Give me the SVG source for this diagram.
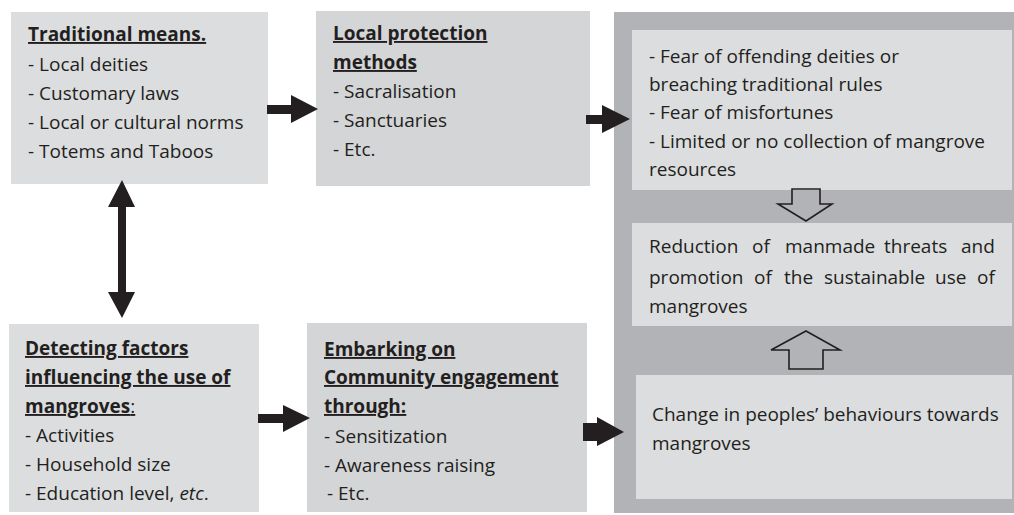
<svg xmlns="http://www.w3.org/2000/svg" width="1014" height="515" viewBox="0 0 1014 515">
<style>
text{font-family:"Open Sans","Noto Sans","DejaVu Sans",sans-serif;font-size:19px;fill:#231f20}
.h{font-weight:bold;text-decoration:underline}
.b1{fill:#dcdddf}
.b2{fill:#d4d5d7}
.panel{fill:#b2b3b6}
.arr{fill:#231f20}
.hollow{fill:none;stroke:#231f20;stroke-width:1.6}
</style>
<rect width="1014" height="515" fill="#ffffff"/>
<g id="panel">
<rect class="panel" x="614" y="12" width="400" height="501"/>
</g>
<g id="traditional">
<rect class="b1" x="11" y="12" width="257" height="172"/>
<text x="28" y="41" class="h">Traditional means.</text>
<text x="28" y="71">- Local deities</text>
<text x="28" y="100">- Customary laws</text>
<text x="28" y="129">- Local or cultural norms</text>
<text x="28" y="158">- Totems and Taboos</text>
</g>
<g id="local">
<rect class="b2" x="316" y="11" width="274" height="175"/>
<text x="333" y="40" class="h">Local protection</text>
<text x="333" y="69" class="h">methods</text>
<text x="333" y="98">- Sacralisation</text>
<text x="333" y="127">- Sanctuaries</text>
<text x="333" y="156">- Etc.</text>
</g>
<g id="fear">
<rect class="b1" x="632" y="30" width="380" height="160"/>
<text x="649" y="63">- Fear of offending deities or</text>
<text x="649" y="91">breaching traditional rules</text>
<text x="649" y="119">- Fear of misfortunes</text>
<text x="649" y="148">- Limited or no collection of mangrove</text>
<text x="649" y="176">resources</text>
</g>
<g id="reduction">
<rect class="b1" x="632" y="223" width="380" height="103"/>
<text y="253"><tspan x="649">Reduction</tspan><tspan x="752">of</tspan><tspan x="785">manmade</tspan><tspan x="884">threats</tspan><tspan x="961">and</tspan></text>
<text y="284"><tspan x="649">promotion</tspan><tspan x="754">of</tspan><tspan x="784">the</tspan><tspan x="824">sustainable</tspan><tspan x="935">use</tspan><tspan x="977">of</tspan></text>
<text x="649" y="313">mangroves</text>
</g>
<g id="change">
<rect class="b1" x="636" y="375" width="376" height="124"/>
<text x="652" y="421">Change in peoples’ behaviours towards</text>
<text x="652" y="450">mangroves</text>
</g>
<g id="detecting">
<rect class="b1" x="9" y="324" width="250" height="188"/>
<text x="25" y="355" class="h">Detecting factors</text>
<text x="25" y="384" class="h">influencing the use of</text>
<text x="25" y="413"><tspan class="h">mangroves</tspan><tspan style="text-decoration:underline">:</tspan></text>
<text x="25" y="442">- Activities</text>
<text x="25" y="471">- Household size</text>
<text x="25" y="500">- Education level, <tspan font-style="italic">etc</tspan>.</text>
</g>
<g id="embarking">
<rect class="b2" x="307" y="323" width="280" height="189"/>
<text x="324" y="356" class="h">Embarking on</text>
<text x="324" y="384" class="h">Community engagement</text>
<text x="324" y="413" class="h">through:</text>
<text x="324" y="443">- Sensitization</text>
<text x="324" y="472">- Awareness raising</text>
<text x="327" y="500">- Etc.</text>
</g>
<g id="connectors">
<polygon class="arr" points="267,105 291,105 291,95 318,109 291,123 291,114 267,114"/>
<polygon class="arr" points="586,115 602,115 602,105 630,119 602,133 602,124 586,124"/>
<polygon class="arr" points="258,414 283,414 283,405 310,418 283,432 283,423 258,423"/>
<polygon class="arr" points="583,423 597,423 597,417 624,432 597,446 597,441 583,441"/>
<polygon class="arr" points="122,180 135,207 126,207 126,292 135,292 122,318 108,292 118,292 118,207 108,207"/>
<polygon class="hollow" points="792,189 820,189 820,204 832,204 806,221 778,204 792,204"/>
<polygon class="hollow" points="806,331 840,350 823,350 823,369 789,369 789,350 771,350"/>
</g>
</svg>
